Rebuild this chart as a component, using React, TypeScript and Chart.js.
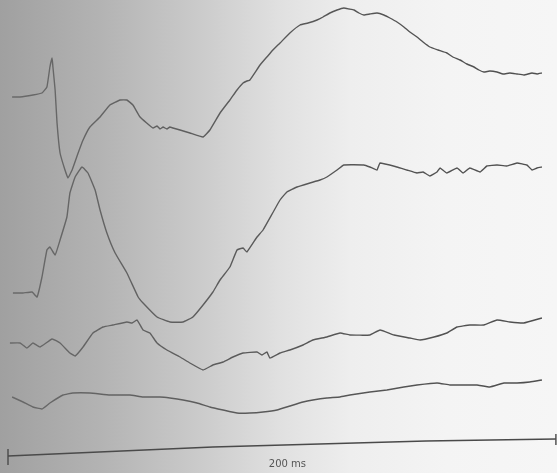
import React, { useEffect, useRef } from "react";
import { Chart, registerables } from "chart.js";

Chart.register(...registerables);

// time in ms, amplitude in arbitrary units
const trace1Time = [1.5, 4.4, 9.1, 12.4, 14.2, 15.3, 16.1, 16.4, 17.2, 17.9, 19.0, 20.8, 21.9, 23.4, 25.6, 27.4, 29.9, 33.6, 37.2, 40.9, 43.4, 45.6, 48.2, 52.9, 54.4, 55.5, 56.6, 58.0, 59.1, 60.2, 62.8, 66.4, 71.2, 73.7, 77.4, 81.0, 83.6, 85.8, 87.2, 88.3, 92.0, 94.5, 96.7, 99.3, 102.9, 106.6, 109.5, 112.8, 115.0, 117.5, 120.1, 122.6, 124.5, 126.3, 128.1, 129.9, 132.1, 134.7, 137.2, 139.4, 142.0, 144.5, 146.7, 149.3, 151.5, 154.0, 157.0, 160.2, 162.4, 165.0, 167.5, 170.1, 171.9, 173.7, 175.9, 178.5, 180.7, 183.2, 185.8, 188.3, 191.3, 193.1, 194.9];
const trace1Value = [376, 376, 378, 380, 386, 406, 415, 406, 383, 350, 320, 303, 295, 303, 320, 333, 346, 356, 368, 373, 373, 368, 356, 345, 347, 344, 346, 344, 346, 345, 343, 340, 336, 343, 360, 373, 383, 390, 392, 393, 408, 416, 423, 430, 440, 448, 450, 453, 456, 460, 463, 465, 464, 463, 460, 458, 459, 460, 458, 455, 451, 446, 441, 436, 431, 426, 423, 420, 416, 413, 409, 406, 403, 401, 402, 401, 399, 400, 399, 398, 400, 399, 400];

const trace2Time = [1.8, 5.5, 8.8, 10.6, 12.4, 14.2, 15.3, 17.2, 19.0, 21.5, 22.6, 24.5, 27.0, 29.2, 31.8, 33.6, 36.1, 39.1, 43.4, 47.5, 49.3, 54.4, 59.1, 63.9, 67.5, 71.2, 74.8, 77.4, 81.0, 83.6, 85.8, 87.2, 90.9, 93.1, 99.3, 101.8, 105.5, 110.2, 113.9, 116.4, 120.1, 122.6, 129.9, 132.1, 134.7, 135.8, 142.0, 145.6, 149.3, 151.5, 154.0, 156.6, 157.7, 160.2, 163.9, 166.1, 168.6, 172.3, 174.8, 178.5, 182.1, 185.8, 189.4, 191.3, 193.1, 194.9];
const trace2Value = [180, 180, 181, 176, 196, 223, 226, 218, 233, 256, 280, 296, 306, 300, 283, 263, 240, 220, 200, 176, 170, 156, 151, 151, 156, 168, 181, 193, 206, 223, 225, 221, 236, 243, 273, 281, 286, 290, 293, 296, 303, 308, 308, 306, 303, 310, 306, 303, 300, 301, 297, 301, 305, 300, 305, 300, 305, 301, 307, 308, 307, 310, 308, 303, 305, 306];

const trace3Time = [0.7, 4.4, 6.9, 9.1, 11.7, 16.1, 19.0, 22.6, 24.5, 27.4, 31.0, 34.7, 38.3, 43.4, 45.3, 47.1, 49.3, 51.8, 54.4, 58.0, 62.8, 66.4, 71.2, 74.8, 78.5, 82.1, 85.8, 90.9, 92.7, 94.5, 95.6, 99.3, 102.9, 107.7, 111.3, 116.4, 121.2, 124.8, 132.1, 135.8, 140.9, 146.7, 150.4, 155.5, 160.2, 163.9, 168.6, 173.7, 178.5, 183.2, 188.3, 194.9];
const trace3Value = [130, 130, 125, 130, 126, 134, 130, 120, 117, 126, 140, 146, 148, 151, 150, 153, 143, 140, 130, 123, 116, 110, 103, 108, 111, 116, 120, 121, 118, 121, 115, 120, 123, 128, 133, 136, 140, 138, 138, 143, 138, 135, 133, 136, 140, 146, 148, 148, 153, 151, 150, 155];

const trace4Time = [1.5, 5.5, 9.1, 12.4, 15.3, 20.1, 23.7, 29.9, 37.2, 44.5, 49.3, 55.5, 59.1, 63.9, 69.0, 73.7, 78.5, 83.6, 88.3, 93.1, 98.2, 102.9, 107.7, 111.3, 116.4, 121.2, 124.8, 132.1, 138.3, 144.5, 149.3, 156.6, 161.3, 166.4, 171.2, 175.9, 181.0, 185.8, 190.5, 194.9];
const trace4Value = [76, 71, 66, 64, 70, 78, 80, 80, 78, 78, 76, 76, 75, 73, 70, 66, 63, 60, 60, 61, 63, 67, 71, 73, 75, 76, 78, 81, 83, 86, 88, 90, 88, 88, 88, 86, 90, 90, 91, 93];

// calibration bar: 200 ms
const scaleBarTime = [0, 74.8, 152.6, 200];
const scaleBarValue = [17, 26, 32, 34];
const scaleBarLabel = "200 ms";
const leftTickValue = [8, 24];
const rightTickValue = [28, 39];

const toPoints = (t: number[], v: number[]) => t.map((x, i) => ({ x, y: v[i] }));

export default function App() {
  const ref = useRef<HTMLCanvasElement | null>(null);
  useEffect(() => {
    document.body.style.margin = "0";
    const canvas = ref.current;
    if (!canvas) return;
    const ctx0 = canvas.getContext("2d")!;
    const ink = ctx0.createLinearGradient(0, 0, 557, 0);
    ink.addColorStop(0, "#6a6a6a");
    ink.addColorStop(0.45, "#5a5a5a");
    ink.addColorStop(1, "#4e4e4e");
    const traceStyle = {
      borderColor: ink,
      borderWidth: 1.4,
      pointRadius: 0,
      tension: 0.1,
      fill: false,
    };
    const bgPlugin = {
      id: "paper",
      beforeDraw(chart: any) {
        const { ctx, width, height } = chart;
        ctx.save();
        const g = ctx.createLinearGradient(0, 0, width, 0);
        g.addColorStop(0, "#a0a0a0");
        g.addColorStop(0.18, "#b3b3b3");
        g.addColorStop(0.36, "#cbcbcb");
        g.addColorStop(0.5, "#e0e0e0");
        g.addColorStop(0.63, "#eeeeee");
        g.addColorStop(0.8, "#f4f4f4");
        g.addColorStop(1, "#f6f6f6");
        ctx.fillStyle = g;
        ctx.fillRect(0, 0, width, height);
        ctx.restore();
      },
      afterDatasetsDraw(chart: any) {
        const { ctx } = chart;
        const xs = chart.scales.x;
        const ys = chart.scales.y;
        ctx.save();
        ctx.fillStyle = "#555555";
        ctx.font = "10px 'DejaVu Sans', sans-serif";
        ctx.textAlign = "center";
        ctx.textBaseline = "middle";
        ctx.fillText(scaleBarLabel, xs.getPixelForValue(102), ys.getPixelForValue(9));
        ctx.restore();
      },
    };
    const chart = new Chart(canvas, {
      type: "line",
      data: {
        datasets: [
          { data: toPoints(trace1Time, trace1Value), ...traceStyle },
          { data: toPoints(trace2Time, trace2Value), ...traceStyle },
          { data: toPoints(trace3Time, trace3Value), ...traceStyle },
          { data: toPoints(trace4Time, trace4Value), ...traceStyle },
          { data: toPoints(scaleBarTime, scaleBarValue), borderColor: "#4a4a4a", borderWidth: 1.4, pointRadius: 0, tension: 0 },
          { data: [{ x: 0, y: leftTickValue[0] }, { x: 0, y: leftTickValue[1] }], borderColor: "#4a4a4a", borderWidth: 1.4, pointRadius: 0 },
          { data: [{ x: 200, y: rightTickValue[0] }, { x: 200, y: rightTickValue[1] }], borderColor: "#4a4a4a", borderWidth: 1.4, pointRadius: 0 },
        ],
      },
      options: {
        animation: false,
        responsive: false,
        devicePixelRatio: 1,
        layout: { padding: 0 },
        parsing: false as any,
        plugins: { legend: { display: false }, tooltip: { enabled: false } },
        scales: {
          x: { type: "linear", min: -2.92, max: 200.4, display: false },
          y: { type: "linear", min: 0, max: 473, display: false },
        },
      },
      plugins: [bgPlugin],
    });
    return () => chart.destroy();
  }, []);
  return (
    <div style={{ width: 557, height: 473 }}>
      <canvas ref={ref} width={557} height={473} />
    </div>
  );
}
